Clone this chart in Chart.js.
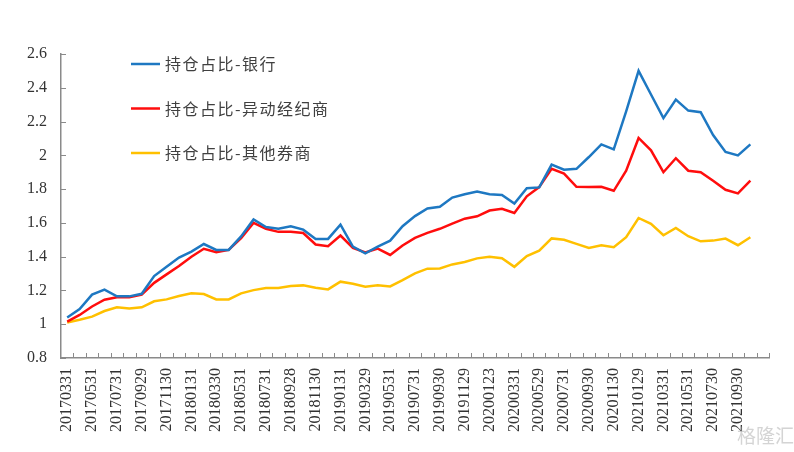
<!DOCTYPE html>
<html>
<head>
<meta charset="utf-8">
<script src="https://cdn.jsdelivr.net/npm/chart.js@4"></script>
<style>
  body { margin: 0; background: #fff; }
  #wrap { width: 794px; height: 452px; position: relative; }
</style>
</head>
<body>
<div id="wrap"><canvas id="posChart" width="794" height="452"></canvas></div>
<script>
// month-end dates (one empty slot is left at the end of the axis, as in the source)
const dates = ['20170331','20170428','20170531','20170630','20170731','20170831','20170929','20171031','20171130','20171229',
  '20180131','20180228','20180330','20180427','20180531','20180629','20180731','20180831','20180928','20181031','20181130','20181228',
  '20190131','20190228','20190329','20190430','20190531','20190628','20190731','20190830','20190930','20191031','20191129','20191231',
  '20200123','20200228','20200331','20200430','20200529','20200630','20200731','20200831','20200930','20201030','20201130','20201231',
  '20210129','20210226','20210331','20210430','20210531','20210630','20210730','20210831','20210930','20211029'];

const bankShare = [1.04,1.09,1.175,1.205,1.165,1.165,1.18,1.285,1.34,1.395,1.43,1.475,1.44,1.44,1.52,1.62,1.575,1.565,1.58,1.56,
  1.505,1.505,1.59,1.46,1.42,1.46,1.495,1.58,1.64,1.685,1.695,1.75,1.77,1.785,1.77,1.765,1.715,1.805,1.81,1.945,
  1.915,1.92,1.99,2.065,2.035,2.26,2.5,2.36,2.22,2.33,2.265,2.255,2.12,2.02,2.0,2.065];

const fcmShare = [1.015,1.055,1.105,1.145,1.16,1.16,1.175,1.245,1.295,1.345,1.4,1.447,1.427,1.44,1.51,1.6,1.565,1.547,1.547,1.54,
  1.472,1.462,1.525,1.452,1.425,1.448,1.41,1.466,1.511,1.541,1.565,1.596,1.625,1.639,1.673,1.684,1.659,1.757,1.812,1.92,
  1.892,1.814,1.812,1.814,1.79,1.909,2.103,2.03,1.90,1.983,1.909,1.90,1.85,1.796,1.775,1.85];

const otherShare = [1.01,1.026,1.045,1.078,1.10,1.093,1.10,1.136,1.147,1.167,1.183,1.179,1.147,1.147,1.183,1.202,1.214,1.214,1.226,1.23,
  1.216,1.206,1.252,1.24,1.222,1.23,1.224,1.261,1.301,1.329,1.33,1.354,1.368,1.39,1.40,1.391,1.34,1.403,1.435,1.508,
  1.50,1.476,1.452,1.468,1.456,1.515,1.629,1.594,1.527,1.57,1.521,1.491,1.495,1.507,1.468,1.515];

const seriesNames = ['持仓占比-银行', '持仓占比-异动经纪商', '持仓占比-其他券商'];
const yTicks = [0.8, 1, 1.2, 1.4, 1.6, 1.8, 2, 2.2, 2.4, 2.6];

const axisGray = '#8a8a8a';
const serif = "'Liberation Serif', 'Times New Roman', 'DejaVu Serif', serif";
const categories = [...dates, ''];

// inside tick marks + legend inside the plot area
const extras = {
  id: 'extras',
  afterDraw(chart) {
    const c = chart.ctx;
    const x = chart.scales.x, y = chart.scales.y;
    c.save();
    c.strokeStyle = axisGray;
    c.lineWidth = 1;
    yTicks.forEach(v => {
      const py = Math.round(y.getPixelForValue(v)) + 0.5;
      c.beginPath(); c.moveTo(x.left, py); c.lineTo(x.left + 5, py); c.stroke();
    });
    const n = categories.length;
    for (let i = 1; i <= n; i++) {
      const px = Math.round(x.left + i * x.width / n) + 0.5;
      c.beginPath(); c.moveTo(px, y.bottom); c.lineTo(px, y.bottom - 5); c.stroke();
    }
    // legend
    chart.data.datasets.forEach((ds, k) => {
      const ly = 64 + k * 44.5;
      c.strokeStyle = ds.borderColor;
      c.lineWidth = 2.5;
      c.beginPath(); c.moveTo(131, ly); c.lineTo(160, ly); c.stroke();
      c.fillStyle = '#404040';
      c.font = '16px "Noto Sans CJK SC"';
      c.textBaseline = 'middle';
      c.textAlign = 'left';
      let tx = 165;
      for (const ch of ds.label) {
        c.fillText(ch, tx, ly);
        tx += c.measureText(ch).width + 1.5;
      }
    });
    // watermark
    c.fillStyle = 'rgba(170,170,170,0.5)';
    c.font = '19px "Noto Sans CJK SC"';
    c.textAlign = 'left';
    c.textBaseline = 'middle';
    c.fillText('格隆汇', 737, 436);
    c.restore();
  }
};

new Chart(document.getElementById('posChart'), {
  type: 'line',
  data: {
    labels: categories,
    datasets: [
      { label: seriesNames[0], data: bankShare, borderColor: '#1e78c2' },
      { label: seriesNames[1], data: fcmShare, borderColor: '#ff0d0d' },
      { label: seriesNames[2], data: otherShare, borderColor: '#ffc000' }
    ].map(d => Object.assign(d, { borderWidth: 2.5, pointRadius: 0, tension: 0, fill: false }))
  },
  options: {
    responsive: false,
    animation: false,
    layout: { padding: { top: 54, right: 25, left: 0, bottom: 0 } },
    plugins: { legend: { display: false }, tooltip: { enabled: false } },
    scales: {
      x: {
        offset: true,
        grid: { display: false, drawTicks: false, offset: true },
        border: { display: true, color: axisGray, width: 1.5 },
        ticks: {
          autoSkip: false,
          maxRotation: 90,
          minRotation: 90,
          padding: 10,
          color: '#333',
          font: { family: serif, size: 16 },
          callback: (v, i) => (i % 2 === 0 ? categories[i] : '')
        },
        afterFit: s => { s.height = 94; }
      },
      y: {
        min: 0.8,
        max: 2.6,
        grid: { display: false, drawTicks: false },
        border: { display: true, color: axisGray, width: 1.5 },
        afterBuildTicks: s => { s.ticks = yTicks.map(v => ({ value: v })); },
        ticks: {
          padding: 14,
          color: '#333',
          font: { family: serif, size: 16 },
          callback: v => String(+v.toFixed(1))
        },
        afterFit: s => { s.width = 61; }
      }
    }
  },
  plugins: [extras]
});
</script>
</body>
</html>
